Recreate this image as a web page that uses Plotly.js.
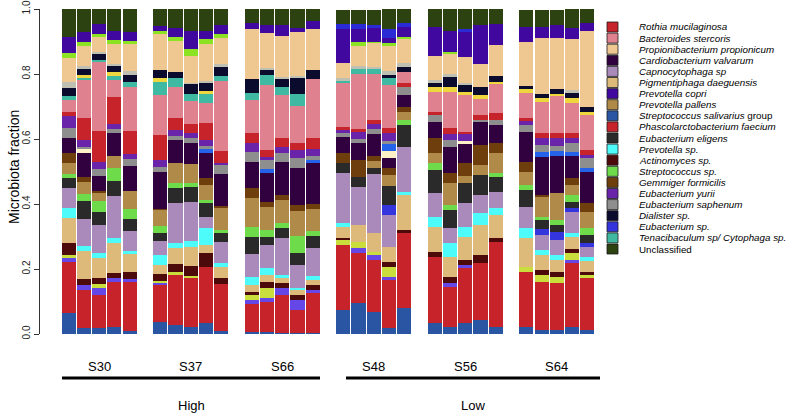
<!DOCTYPE html>
<html><head><meta charset="utf-8">
<script src="https://cdn.plot.ly/plotly-3.0.1.min.js"></script>
<style>html,body{margin:0;padding:0;background:#fff}#chart{width:791px;height:416px}</style>
</head><body><div id="chart"></div>
<script>
// ---------------- DATA ----------------
const samples = ['S30','S37','S66','S48','S56','S64'];
const replicates = 5;
const conditions = ['High','Low'];
const yTicks = [0,0.2,0.4,0.6,0.8,1.0];
const yTickLabels = ['0.0','0.2','0.4','0.6','0.8','1.0'];

// fractions per bar: S30 x5, S37 x5, S66 x5, S48 x5, S56 x5, S64 x5
const strepSal   = [.066,.018,.018,.022,.008, .037,.028,.022,.034,.008, .005,.006,.003,.003,.003, .074,.095,.068,.018,.080, .034,.022,.034,.043,.022, .022,.012,.012,.022,.012];
const rothia     = [.157,.117,.102,.138,.151, .114,.154,.151,.172,.145, .086,.092,.117,.071,.123, .200,.154,.160,.148,.231, .203,.123,.169,.175,.262, .169,.148,.145,.197,.160];
const minorViolet= [.010,.015,.022,.012,.010, .005,0,0,0,0, .015,.012,.022,.031,.009, 0,.015,.015,.009,0, 0,.012,.009,0,0, 0,0,0,.009,0];
const minorYG    = [.010,0,.012,0,0, .008,.010,.005,0,0, .015,.031,0,0,0, .015,.018,.009,.031,0, 0,0,0,0,0, .015,.022,.018,.022,.009];
const actino     = [.038,.020,.018,.015,.022, .022,.022,.031,.043,.018, .009,.018,.015,.015,.015, .006,0,0,.015,.009, .015,.018,.015,.025,.012, 0,.015,.015,.012,.009];
const pigment    = [.077,.086,.062,.092,.055, .025,.052,.058,.025,.034, .022,.022,.015,.015,.015, .034,.052,.058,.046,.108, .077,.062,.071,.092,.071, .089,.046,.037,.037,.034];
const prevSp     = [.031,.015,.015,.015,.010, .031,.015,.018,.052,.015, .022,.022,.009,.006,.015, .012,0,0,0,.009, .031,.043,.031,.037,.022, .031,.015,.015,.012,.012];
const capno      = [.061,.083,.086,.132,.062, .043,.123,.120,.034,.062, .071,.071,.114,.071,.086, .154,.117,.182,.098,.138, .074,.046,.074,.055,.049, .065,.046,.046,.065,.031];
const eubSp      = [0,0,0,0,0, 0,0,0,0,0, 0,0,0,0,0, 0,0,0,.031,0, 0,0,0,0,0, 0,.018,.025,.012,.012];
const eubElig    = [.030,.055,.040,.046,.037, .025,.046,.046,.043,.028, .052,.025,.031,.037,.037, .031,.031,.018,.058,.068, .071,.055,.062,.062,.046, .052,.028,.022,.018,.025];
const strepSp    = [.012,.022,.034,.040,.030, .022,.015,.015,.010,.010, .031,.022,.015,.052,.015, 0,0,0,0,.015, .022,.015,0,0,.012, .015,.009,.015,.022,.022];
const prevPallens= [.035,.037,.025,.037,.055, .049,.062,.058,.046,.068, .092,.071,.071,.077,.068, 0,0,.022,.034,.025, .031,.068,.022,.031,.062, .040,.062,.083,.031,.049];
const gemmiger   = [.031,.015,.006,0,0, .005,0,0,.022,.005, .028,.015,.015,.018,.015, .031,.052,.015,.022,.015, .046,.031,.040,.062,.031, .031,.006,0,.022,.028];
const cardio     = [.046,.074,.046,.071,.077, .114,.071,.065,.077,.098, .080,.089,.102,.114,.126, .049,.055,.068,.031,.037, .049,.080,.058,.071,.055, .092,.117,.114,.068,.095];
const minorPale  = [0,.012,0,0,0, 0,0,0,0,0, 0,0,0,0,0, 0,0,0,.022,0, 0,0,.009,0,0, 0,0,0,0,0];
const minorBlue  = [0,0,0,0,0, 0,0,0,.010,0, 0,.012,0,0,.009, 0,0,0,.022,0, 0,0,0,0,0, 0,.015,.015,.012,.012];
const eubSaph    = [.031,.006,.022,.010,.022, .015,.012,.015,.010,.030, .031,.028,.028,.031,.012, .012,.012,.015,.009,.025, .022,.022,0,.006,.015, .022,.022,.018,.028,.031];
const eubYurii   = [.037,.022,.022,.015,.015, .020,.018,.015,.020,.005, .028,.009,.018,.025,.022, .009,.022,.015,.025,0, 0,.018,.022,0,0, .012,.022,.022,.015,.009];
const phasc      = [.012,.068,.095,.083,.071, .077,.037,.028,.052,.037, .031,.022,.028,.022,.034, .009,.009,.012,.015,.012, .009,.018,.006,.015,.022, .009,.015,.015,.015,.015];
const bact       = [.037,.117,.212,.055,.135, .123,.095,.071,.062,.215, .102,.200,.132,.114,.182, .135,.169,.142,.132,.034, .062,.111,.114,.049,.089, .077,.095,.114,.092,.108];
const tenac      = [.010,.005,.005,.010,.015, .040,.028,.020,.028,.015, .022,.031,.025,.037,0, .009,.015,.015,.022,0, 0,0,0,0,0, 0,0,0,0,0];
const minorYellow= [0,.009,0,.014,0, .012,0,0,.009,0, 0,0,0,0,0, 0,0,0,0,0, .015,.015,.009,.012,.006, .012,.012,.009,.015,.009];
const dialister  = [.027,.020,.020,.018,.022, .025,.018,.030,.022,.028, .043,.015,.025,.049,.025, 0,0,0,.009,.015, .012,.031,.022,.025,.018, .009,.015,.015,.015,.015];
const minorGray  = [.018,.009,.005,.006,.012, 0,0,.005,.009,.010, 0,.006,.006,.006,0, .009,.009,.009,.012,.012, .009,.009,.006,0,0, 0,0,0,.009,0];
const propioni   = [.074,.062,.046,.062,.083, .111,.095,.083,.111,.080, .154,.108,.126,.135,.129, .046,.062,.071,.077,.074, .074,.062,.080,.071,.095, .135,.172,.157,.157,.234];
const minorLime  = [.016,.012,.009,.012,.009, .008,.012,.022,.018,.012, 0,0,0,0,0, 0,.012,.003,.009,.006, 0,.006,0,0,0, 0,0,0,0,0];
const prevCopri  = [.049,.031,.031,.028,.028, .018,.028,.055,.022,.028, .018,.025,.034,.012,.022, .102,.040,.046,.015,.031, .089,.065,.077,.120,.065, .049,.034,.040,.034,.025];
const minorBlueTop=[0,0,0,0,0, 0,0,0,0,0, 0,0,0,0,0, .018,.015,.009,.028,.012, 0,0,.009,0,0, 0,0,0,0,0];
const unclassified=[.086,.070,.047,.067,.071, .051,.059,.067,.069,.049, .043,.049,.049,.058,.037, .043,.043,.046,.062,.043, .055,.068,.062,.049,.046, .052,.052,.046,.058,.043];

// legend entries (top to bottom)
const legendNames = ['Rothia mucilaginosa','Bacteroides stercoris','Propionibacterium propionicum','Cardiobacterium valvarum','Capnocytophaga sp','Pigmentiphaga daeguensis','Prevotella copri','Prevotella pallens','Streptococcus salivarius group','Phascolarctobacterium faecium','Eubacterium eligens','Prevotella sp.','Actinomyces sp.','Streptococcus sp.','Gemmiger formicilis','Eubacterium yurii','Eubacterium saphenum','Dialister sp.','Eubacterium sp.','Tenacibaculum sp/ Cytophaga sp.','Unclassified'];

// ---------------- STYLE ----------------
const layers = [
  [strepSal,'#2A55A2'],[rothia,'#C6232B'],[minorViolet,'#6546E6'],[minorYG,'#C9DE3C'],
  [actino,'#4D0A0A'],[pigment,'#DDBA7A'],[prevSp,'#4EFBFB'],[capno,'#A98ABA'],
  [eubSp,'#3535DE'],[eubElig,'#2A2A2A'],[strepSp,'#6EDC4A'],[prevPallens,'#B08A48'],
  [gemmiger,'#6E3F0C'],[cardio,'#31003E'],[minorPale,'#FFF1C6'],[minorBlue,'#2462EA'],
  [eubSaph,'#8E8E8E'],[eubYurii,'#6A24AA'],[phasc,'#C6232B'],[bact,'#E0818F'],
  [tenac,'#3FB9A1'],[minorYellow,'#EDD63E'],[dialister,'#0B0B2E'],[minorGray,'#BFC0B2'],
  [propioni,'#EFC791'],[minorLime,'#8BE324'],[prevCopri,'#40089E'],[minorBlueTop,'#2B2BD6'],
  [unclassified,'#2D4211']
];
const legendColors = ['#C6232B','#E0818F','#EFC791','#31003E','#A98ABA','#DDBA7A','#40089E','#B08A48','#2A55A2','#C6232B','#2A2A2A','#4EFBFB','#4D0A0A','#6EDC4A','#6E3F0C','#6A24AA','#8E8E8E','#0B0B2E','#3535DE','#3FB9A1','#2D4211'];

const FONT = 'Liberation Sans, Arial, Helvetica, sans-serif';
const W = 791, H = 416, L = 40, R = 595, T = 9, B = 334;
const px = x => (x - L) / (R - L);
const py = y => (B - y) / (B - T);

// x slots: 5 bars per sample, one empty slot between samples
const xPos = [];
samples.forEach((s, g) => { for (let r = 0; r < replicates; r++) xPos.push(g * (replicates + 1) + r); });

const traces = layers.map(([vals, col]) => ({
  type: 'bar', x: xPos, y: vals, marker: { color: col, line: { width: 0 } },
  showlegend: false, hoverinfo: 'skip'
}));

const annotations = [];
const shapes = [];
samples.forEach((s, g) => {
  annotations.push({ x: g * (replicates + 1) + (replicates - 1) / 2, xref: 'x', y: py(366), yref: 'paper',
    text: s, showarrow: false, font: { family: FONT, size: 13, color: '#000' }, xanchor: 'center', yanchor: 'middle' });
});
const condLines = [[62, 320], [346, 600]];
conditions.forEach((c, i) => {
  const [a, b] = condLines[i];
  shapes.push({ type: 'line', xref: 'paper', yref: 'paper', x0: px(a), x1: px(b), y0: py(378), y1: py(378),
    line: { color: '#000', width: 3 } });
  annotations.push({ x: px((a + b) / 2), xref: 'paper', y: py(405), yref: 'paper', text: c, showarrow: false,
    font: { family: FONT, size: 13, color: '#000' }, xanchor: 'center', yanchor: 'middle' });
});
annotations.push({ x: px(14), xref: 'paper', y: py(167), yref: 'paper', text: 'Microbiota fraction', textangle: -90,
  showarrow: false, font: { family: FONT, size: 14, color: '#000' }, xanchor: 'center', yanchor: 'middle' });

legendNames.forEach((n, i) => {
  const cy = 27 + i * 11.1;
  shapes.push({ type: 'rect', xref: 'paper', yref: 'paper', x0: px(607), x1: px(618), y0: py(cy + 5), y1: py(cy - 5),
    fillcolor: legendColors[i], line: { color: '#1a1a1a', width: 0.8 } });
  let txt;
  if (n === 'Unclassified') txt = n;
  else if (n.endsWith(' group')) txt = '<i>' + n.replace(' group', '') + '</i> group';
  else txt = '<i>' + n + '</i>';
  annotations.push({ x: px(637), xref: 'paper', y: py(cy), yref: 'paper', text: txt, showarrow: false,
    xanchor: 'left', yanchor: 'middle', font: { family: FONT, size: 9.8, color: '#000' } });
});

const layout = {
  width: W, height: H, barmode: 'stack', bargap: 0.07,
  margin: { l: L, r: W - R, t: T, b: H - B, pad: 0 },
  paper_bgcolor: '#fff', plot_bgcolor: '#fff', showlegend: false,
  xaxis: { range: [-0.5 - (61 - L) / ((R - 61) / 35), 34.5], visible: false, fixedrange: true },
  yaxis: { range: [0, 1], tickvals: yTicks, ticktext: yTickLabels, tickangle: -90, ticks: 'outside', ticklen: 5,
    tickwidth: 1, tickcolor: '#333', showline: true, linecolor: '#333', linewidth: 1, showgrid: false,
    zeroline: false, tickfont: { family: FONT, size: 10, color: '#222' }, fixedrange: true },
  shapes: shapes, annotations: annotations
};
Plotly.newPlot('chart', traces, layout, { staticPlot: true, displayModeBar: false });
</script></body></html>
